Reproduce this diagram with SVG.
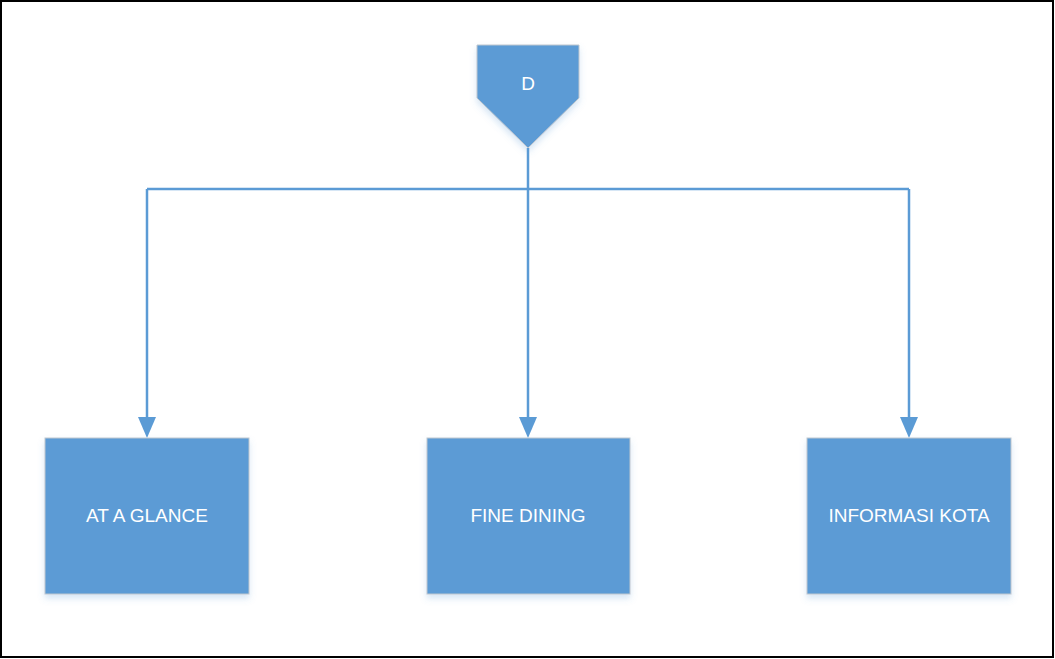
<svg xmlns="http://www.w3.org/2000/svg" width="1055" height="659" viewBox="0 0 1055 659">
<style>
.box{fill:#5B9BD5;stroke:#BFC7CF;stroke-width:1}
.lbl{font-family:"Liberation Sans",Arial,sans-serif;font-size:19px;fill:#FFFFFF;text-anchor:middle}
.conn{fill:none;stroke:#5B9BD5;stroke-width:2.5}
.head{fill:#5B9BD5}
</style>
<defs>
<filter id="sh" x="-10%" y="-10%" width="120%" height="130%">
<feDropShadow dx="0" dy="4" stdDeviation="3" flood-color="#5B9BD5" flood-opacity="0.25"/>
</filter>
</defs>
<rect x="1" y="1" width="1052" height="656" fill="#FFFFFF" stroke="#000000" stroke-width="2"/>
<g id="connectors">
<path class="conn" d="M528,148 V189"/>
<path class="conn" d="M147,189 H909"/>
<path class="conn" d="M147,189 V418"/>
<path class="conn" d="M528,189 V418"/>
<path class="conn" d="M909,189 V418"/>
<polygon class="head" points="138,417 156,417 147,438"/>
<polygon class="head" points="519,417 537,417 528,438"/>
<polygon class="head" points="900,417 918,417 909,438"/>
</g>
<g id="node-d">
<polygon class="box" filter="url(#sh)" points="477,45 579,45 579,98 528,148 477,98"/>
<text class="lbl" x="528" y="90">D</text>
</g>
<g id="node-at-a-glance">
<rect class="box" filter="url(#sh)" x="45" y="438" width="204" height="156"/>
<text class="lbl" x="147" y="522">AT A GLANCE</text>
</g>
<g id="node-fine-dining">
<rect class="box" filter="url(#sh)" x="427" y="438" width="203" height="156"/>
<text class="lbl" x="528" y="522">FINE DINING</text>
</g>
<g id="node-informasi-kota">
<rect class="box" filter="url(#sh)" x="807" y="438" width="204" height="156"/>
<text class="lbl" x="909" y="522">INFORMASI KOTA</text>
</g>
</svg>
